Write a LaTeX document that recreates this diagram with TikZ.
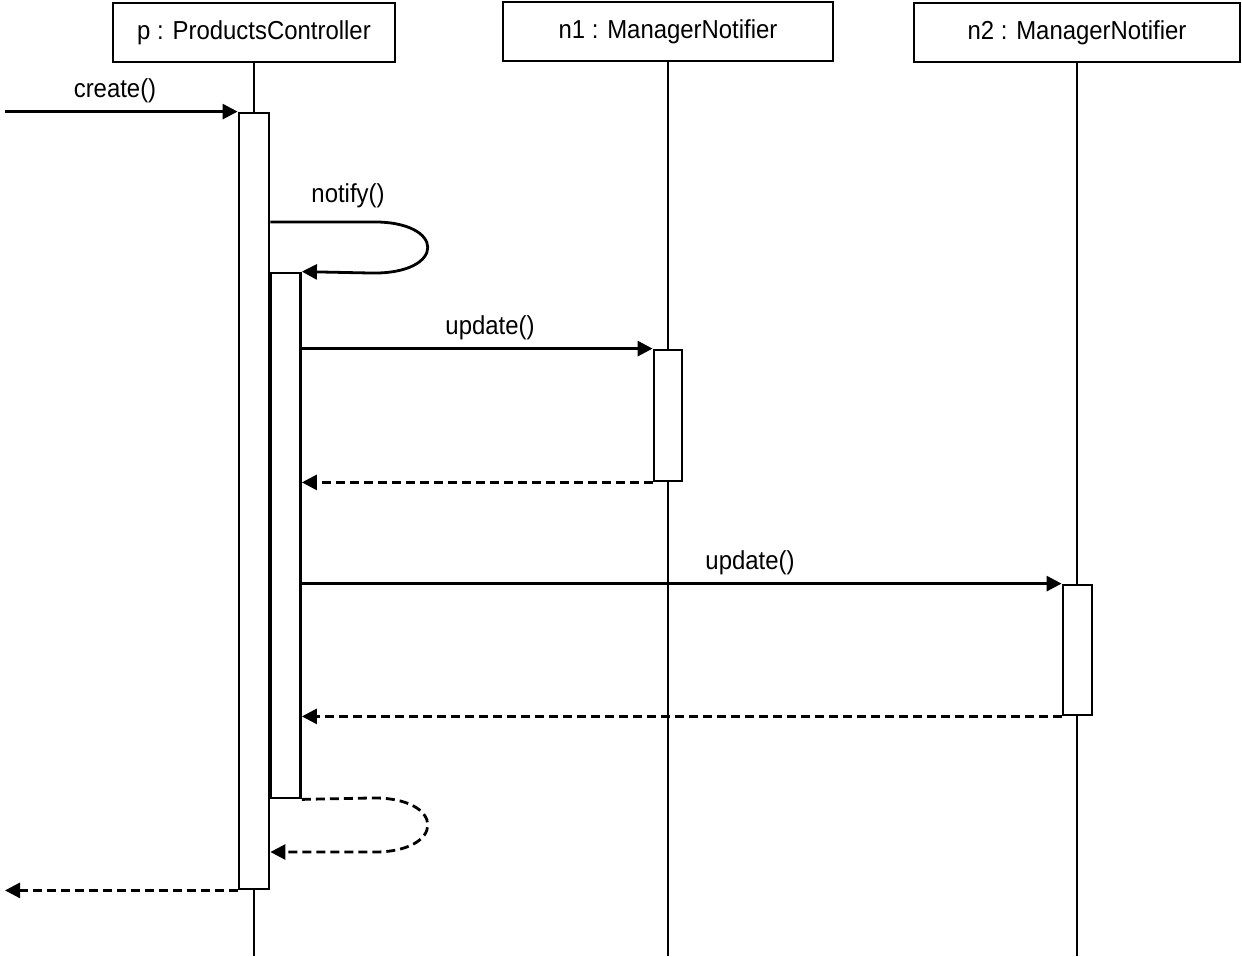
\documentclass[tikz,border=0pt]{standalone}
\usepackage{fontspec}
\setmainfont[FakeStretch=0.92]{Liberation Sans}
\usetikzlibrary{arrows.meta}
\begin{document}
\begin{tikzpicture}[x=1pt,y=-1pt,line width=2.8pt,
  every node/.style={font=\fontsize{26}{29}\selectfont, inner sep=0pt},
  objbox/.style={draw, fill=white, minimum height=59pt},
  actbox/.style={draw, fill=white, minimum width=30pt},
  lifeline/.style={line width=2.8pt},
  msg/.style={-{Triangle[length=15pt,width=15pt]}},
  ret/.style={msg, dash pattern=on 9pt off 5pt},
  lbl/.style={anchor=center}]
\useasboundingbox (0,0) rectangle (1242,956);
% objects
\node[objbox, minimum width=282pt] (p) at (254,32.5) {p : ProductsController};
\node[objbox, minimum width=330pt] (n1) at (668,31.5) {n1 : ManagerNotifier};
\node[objbox, minimum width=326pt] (n2) at (1077,32.5) {n2 : ManagerNotifier};
% lifeline ends
\coordinate (pend) at (p.south |- 0,956);
\coordinate (n1end) at (n1.south |- 0,956);
\coordinate (n2end) at (n2.south |- 0,956);
\draw[lifeline] (p.south) -- (pend);
\draw[lifeline] (n1.south) -- (n1end);
\draw[lifeline] (n2.south) -- (n2end);
% activations
\node[actbox, minimum height=776pt] (pact) at (254,501) {};
\node[actbox, minimum height=525pt] (inner) at (285.5,535.5) {};
\node[actbox, minimum width=28pt, minimum height=131pt] (n1act) at (668,415.5) {};
\node[actbox, minimum width=29pt, minimum height=130pt] (n2act) at (1077.5,650) {};
% free ends
\coordinate (start) at (5,0 |- pact.north);
\coordinate (stop) at (5,0 |- pact.south);
% create
\draw[msg] (start) -- (pact.north west);
\node[lbl] (createlbl) at (115,91) {create()};
% notify self-call
\coordinate (notifyfrom) at (pact.east |- 0,222);
\draw[msg] (notifyfrom) -- (370,222) .. controls (447,220) and (447,275) .. (370,273) -- (inner.north east);
\node[lbl] (notifylbl) at (348,196) {notify()};
% update n1
\draw[msg] (inner.east |- n1act.north) -- (n1act.north west);
\node[lbl] (upd1lbl) at (490,328) {update()};
\draw[ret] (n1act.south west) -- (inner.east |- n1act.south);
% update n2
\draw[msg] (inner.east |- n2act.north) -- (n2act.north west);
\node[lbl] (upd2lbl) at (750,563) {update()};
\draw[ret] (n2act.south west) -- (inner.east |- n2act.south);
% self return
\coordinate (selfback) at (pact.east |- 0,852);
\draw[ret] (inner.south east) -- (370,798) .. controls (447,796) and (447,854) .. (370,852) -- (selfback);
% final return
\draw[ret] (pact.south west) -- (stop);
\end{tikzpicture}
\end{document}
